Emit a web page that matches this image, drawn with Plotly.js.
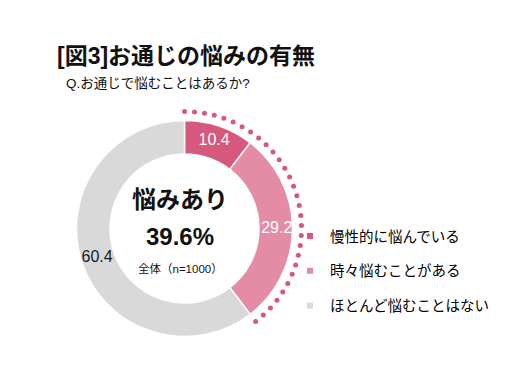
<!DOCTYPE html>
<html>
<head>
<meta charset="utf-8">
<script src="https://cdn.plot.ly/plotly-3.0.1.min.js"></script>
<style>html,body{margin:0;padding:0;background:#fff;}#chart{width:520px;height:390px;}</style>
</head>
<body>
<div id="chart"></div>
<script>
// ---- data ----
const categories = ['慢性的に悩んでいる', '時々悩むことがある', 'ほとんど悩むことはない'];
const values = [10.4, 29.2, 60.4];
const valueLabels = ['10.4', '29.2', '60.4'];
const colors = ['#d6587d', '#e48ca6', '#d9d9d9'];
const labelColors = ['#ffffff', '#ffffff', '#1a1a1a'];
const titleText = '[図3]お通じの悩みの有無';
const subtitleText = 'Q.お通じで悩むことはあるか?';
const centerHead = '悩みあり';
const centerValue = '39.6%';
const centerNote = '全体（n=1000）';
const dotCount = 30;

// ---- geometry (layout constants) ----
const W = 520, H = 390;
const CX = 184.5, CY = 228.5;      // donut centre (px)
const R_POLAR = 125;               // polar radius in px == radial range
const R_IN = 74.5, R_OUT = 108;    // ring
const R_DOTS = 117;
const R_LABEL = (R_IN + R_OUT) / 2 + 1;

const total = values.reduce((a, b) => a + b, 0);
const deg = values.map(v => v / total * 360);
const mids = [];
let acc = 0;
deg.forEach(d => { mids.push(acc + d / 2); acc += d; });
const concernShare = (values[0] + values[1]) / total * 360;
const dotTheta = [];
for (let i = 0; i < dotCount; i++) dotTheta.push(concernShare * i / (dotCount - 1));

const FONT = 'Liberation Sans, Arial, "Noto Sans CJK JP", sans-serif';

const traces = [
  {
    type: 'barpolar',
    r: values.map(() => R_OUT - R_IN),
    base: values.map(() => R_IN),
    theta: mids,
    width: deg,
    marker: { color: colors, line: { color: '#ffffff', width: 1.5 } },
    showlegend: false,
    hoverinfo: 'skip'
  },
  {
    type: 'scatterpolar',
    mode: 'markers',
    r: dotTheta.map(() => R_DOTS),
    theta: dotTheta,
    marker: { color: colors[0], size: 5 },
    cliponaxis: false,
    showlegend: false,
    hoverinfo: 'skip'
  },
  {
    type: 'scatterpolar',
    mode: 'text',
    r: values.map(() => R_LABEL),
    theta: mids,
    text: valueLabels,
    textposition: 'middle center',
    textfont: { family: FONT, size: 16, color: labelColors },
    cliponaxis: false,
    showlegend: false,
    hoverinfo: 'skip'
  }
];
categories.forEach((c, i) => {
  traces.push({
    type: 'scatterpolar',
    mode: 'markers',
    r: [null], theta: [null],
    name: c,
    legendgroup: 'g' + i,
    marker: { color: colors[i], size: 6, symbol: 'square' },
    showlegend: true
  });
});

const px = x => x / W;
const py = y => (H - y) / H;

const layout = {
  width: W, height: H,
  margin: { l: 0, r: 0, t: 0, b: 0 },
  paper_bgcolor: '#ffffff',
  plot_bgcolor: '#ffffff',
  font: { family: FONT, color: '#111111' },
  polar: {
    domain: { x: [px(CX - R_POLAR), px(CX + R_POLAR)], y: [py(CY + R_POLAR), py(CY - R_POLAR)] },
    bgcolor: 'rgba(0,0,0,0)',
    radialaxis: { range: [0, R_POLAR], visible: false },
    angularaxis: { direction: 'clockwise', rotation: 90, visible: false, showgrid: false, showline: false, ticks: '' },
    hole: 0
  },
  showlegend: true,
  legend: {
    x: px(290), xanchor: 'left',
    y: py(220), yanchor: 'top',
    font: { size: 14.5, color: '#000000', family: FONT },
    tracegroupgap: 13,
    bgcolor: 'rgba(0,0,0,0)',
    itemclick: false, itemdoubleclick: false
  },
  annotations: [
    { text: '<b>' + titleText + '</b>', x: px(55), y: py(55.5), xref: 'paper', yref: 'paper', xanchor: 'left', yanchor: 'middle', showarrow: false, font: { size: 23, color: '#111111' } },
    { text: subtitleText, x: px(64), y: py(83), xref: 'paper', yref: 'paper', xanchor: 'left', yanchor: 'middle', showarrow: false, font: { size: 13.5, color: '#111111' } },
    { text: '<b>' + centerHead + '</b>', x: px(180), y: py(199), xref: 'paper', yref: 'paper', xanchor: 'center', yanchor: 'middle', showarrow: false, font: { size: 24, color: '#111111' } },
    { text: '<b>' + centerValue + '</b>', x: px(180), y: py(236.5), xref: 'paper', yref: 'paper', xanchor: 'center', yanchor: 'middle', showarrow: false, font: { size: 24, color: '#111111' } },
    { text: centerNote, x: px(180), y: py(268.5), xref: 'paper', yref: 'paper', xanchor: 'center', yanchor: 'middle', showarrow: false, font: { size: 11.5, color: '#111111' } }
  ]
};

Plotly.newPlot('chart', traces, layout, { staticPlot: true, displayModeBar: false });
</script>
</body>
</html>
